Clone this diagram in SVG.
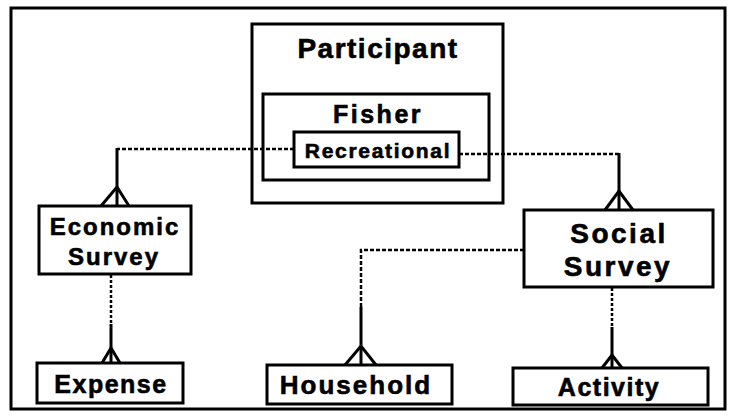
<svg xmlns="http://www.w3.org/2000/svg" width="732" height="420" viewBox="0 0 732 420">
<style>
.box{fill:#fff;stroke:#000;stroke-width:3}
.frame{fill:#fff;stroke:#000;stroke-width:3}
.t{font-family:"Liberation Sans",Arial,sans-serif;font-weight:bold;fill:#000;stroke:#000;stroke-width:0.6;text-anchor:middle}
.dash{fill:none;stroke:#000;stroke-width:2.5;stroke-dasharray:4 2}
.dot{fill:none;stroke:#000;stroke-width:2.5;stroke-dasharray:3 2}
.solid{fill:none;stroke:#000;stroke-width:3}
.crow{fill:none;stroke:#000;stroke-width:3;stroke-linejoin:miter}
</style>
<rect class="frame" x="11" y="8" width="714" height="401"/>
<g id="participant">
<rect class="box" x="252" y="24" width="251" height="179"/>
<text class="t" x="378" y="58" font-size="28" letter-spacing="1.5">Participant</text>
</g>
<g id="fisher">
<rect class="box" x="263" y="94" width="226" height="86"/>
<text class="t" x="378" y="123" font-size="25" letter-spacing="2.5">Fisher</text>
</g>
<g id="recreational">
<rect class="box" x="294" y="132" width="165" height="35"/>
<text class="t" x="378" y="158" font-size="21" letter-spacing="1.7">Recreational</text>
</g>
<g id="economic-survey">
<rect class="box" x="39" y="206" width="152" height="68"/>
<text class="t" x="115" y="235" font-size="24" letter-spacing="2">Economic</text>
<text class="t" x="114" y="265" font-size="24" letter-spacing="2">Survey</text>
</g>
<g id="social-survey">
<rect class="box" x="524" y="210" width="189" height="77"/>
<text class="t" x="619" y="243" font-size="28" letter-spacing="2.5">Social</text>
<text class="t" x="618" y="276" font-size="28" letter-spacing="2.5">Survey</text>
</g>
<g id="expense">
<rect class="box" x="37" y="363" width="146" height="40"/>
<text class="t" x="111" y="393" font-size="25" letter-spacing="1.5">Expense</text>
</g>
<g id="household">
<rect class="box" x="267" y="365" width="185" height="39"/>
<text class="t" x="356" y="394" font-size="26" letter-spacing="2">Household</text>
</g>
<g id="activity">
<rect class="box" x="513" y="368" width="195" height="37"/>
<text class="t" x="609" y="396" font-size="25" letter-spacing="1.5">Activity</text>
</g>
<g id="connectors">
<path class="dash" d="M294 149 H117"/>
<path class="solid" d="M117 148 V206"/>
<path class="crow" d="M101 206 L117 187 L129 206"/>
<path class="dash" d="M459 154 H619"/>
<path class="solid" d="M619 153 V210"/>
<path class="crow" d="M605 210 L619 191 L633 210"/>
<path class="dot" d="M111 275 V324"/>
<path class="solid" d="M111 324 V363"/>
<path class="crow" d="M102 363 L111 348 L120 363"/>
<path class="dash" d="M524 250 H361 V307"/>
<path class="solid" d="M361 307 V365"/>
<path class="crow" d="M345 365 L361 346 L376 365"/>
<path class="dot" d="M612 288 V327"/>
<path class="solid" d="M612 327 V368"/>
<path class="crow" d="M602 368 L612 355 L622 368"/>
</g>
</svg>
